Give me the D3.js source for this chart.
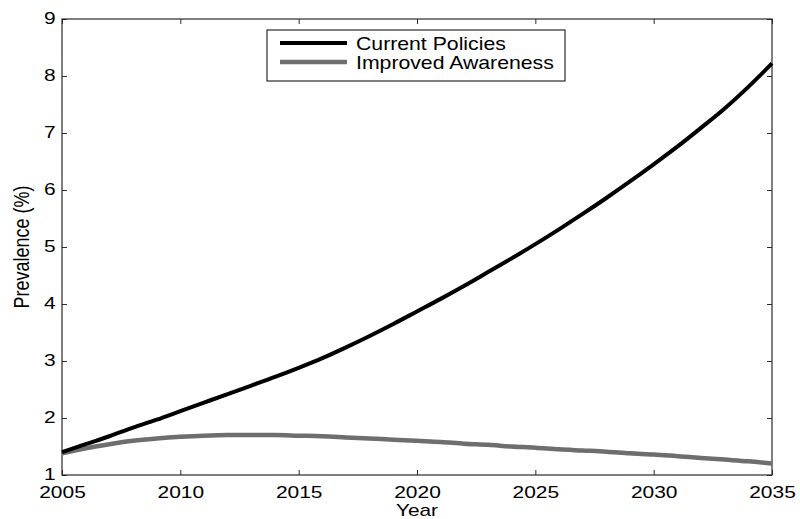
<!DOCTYPE html>
<html>
<head>
<meta charset="utf-8">
<script src="https://cdn.jsdelivr.net/npm/d3@7"></script>
<style>
  html, body { margin: 0; padding: 0; background: #fff; }
  svg { display: block; font-family: "Liberation Sans", Arial, Helvetica, sans-serif; }
</style>
</head>
<body>
<svg id="chart" width="800" height="519"></svg>
<script>
// Prevalence projections, 2005–2035
const years = [2005, 2006, 2007, 2008, 2009, 2010, 2011, 2012, 2013, 2014, 2015,
  2016, 2017, 2018, 2019, 2020, 2021, 2022, 2023, 2024, 2025,
  2026, 2027, 2028, 2029, 2030, 2031, 2032, 2033, 2034, 2035];

const currentPolicies = [1.40, 1.54, 1.68, 1.83, 1.97, 2.12, 2.27, 2.42, 2.57, 2.72, 2.88,
  3.05, 3.24, 3.44, 3.65, 3.87, 4.09, 4.32, 4.56, 4.80, 5.05,
  5.31, 5.58, 5.86, 6.15, 6.45, 6.76, 7.09, 7.43, 7.81, 8.22];

const improvedAwareness = [1.38, 1.47, 1.54, 1.60, 1.64, 1.67, 1.69, 1.70, 1.70, 1.70, 1.69,
  1.68, 1.66, 1.64, 1.62, 1.60, 1.58, 1.55, 1.53, 1.50, 1.48,
  1.45, 1.43, 1.41, 1.38, 1.36, 1.33, 1.30, 1.27, 1.24, 1.20];

const xTicks = [2005, 2010, 2015, 2020, 2025, 2030, 2035];
const yTicks = [1, 2, 3, 4, 5, 6, 7, 8, 9];

const seriesNames = ["Current Policies", "Improved Awareness"];
const seriesColors = ["#000000", "#6e6e6e"];

const svg = d3.select("#chart");
const plotLeft = 62, plotRight = 772, plotTop = 19, plotBottom = 475;
const textScale = 1.18;
const tickScale = 1.27;
const fontSize = 18;
const tickFontSize = 16.5;

const x = d3.scaleLinear().domain([2005, 2035]).range([plotLeft, plotRight]);
const y = d3.scaleLinear().domain([1, 9]).range([plotBottom, plotTop]);

const axisColor = "#2a2a2a";

function styleAxis(g) {
  g.select(".domain").remove();
  g.selectAll(".tick line").attr("stroke", axisColor).attr("stroke-width", 1);
  g.selectAll(".tick text").attr("fill", "#000").attr("font-size", tickFontSize);
}

// bottom axis
svg.append("g")
  .attr("transform", `translate(0,${plotBottom})`)
  .call(d3.axisBottom(x).tickValues(xTicks).tickFormat(d3.format("d")).tickSizeInner(-5).tickSizeOuter(0).tickPadding(11))
  .call(styleAxis)
  .call(g => g.selectAll(".tick text").attr("transform", `scale(${tickScale},1)`));

// top axis (ticks only)
svg.append("g")
  .attr("transform", `translate(0,${plotTop})`)
  .call(d3.axisTop(x).tickValues(xTicks).tickFormat("").tickSizeInner(-5).tickSizeOuter(0))
  .call(styleAxis);

// left axis
svg.append("g")
  .attr("transform", `translate(${plotLeft},0)`)
  .call(d3.axisLeft(y).tickValues(yTicks).tickFormat(d3.format("d")).tickSizeInner(-5).tickSizeOuter(0).tickPadding(5))
  .call(styleAxis)
  .call(g => g.selectAll(".tick text").attr("dy", "0.3em").attr("transform", `scale(${tickScale},1)`));

// right axis (ticks only)
svg.append("g")
  .attr("transform", `translate(${plotRight},0)`)
  .call(d3.axisRight(y).tickValues(yTicks).tickFormat("").tickSizeInner(-5).tickSizeOuter(0))
  .call(styleAxis);

// plot frame
svg.append("rect")
  .attr("x", plotLeft).attr("y", plotTop)
  .attr("width", plotRight - plotLeft).attr("height", plotBottom - plotTop)
  .attr("fill", "none").attr("stroke", axisColor).attr("stroke-width", 1.2);

// series lines
const line = d3.line()
  .x((d, i) => x(years[i]))
  .y(d => y(d))
  .curve(d3.curveMonotoneX);

svg.append("path")
  .datum(improvedAwareness)
  .attr("fill", "none")
  .attr("stroke", seriesColors[1])
  .attr("stroke-width", 4.5)
  .attr("d", line);

svg.append("path")
  .datum(currentPolicies)
  .attr("fill", "none")
  .attr("stroke", seriesColors[0])
  .attr("stroke-width", 4)
  .attr("d", line);

// axis titles
svg.append("text")
  .attr("transform", `translate(${(plotLeft + plotRight) / 2},515.5) scale(1.3,1)`)
  .attr("text-anchor", "middle")
  .attr("font-size", 16)
  .text("Year");

svg.append("text")
  .attr("transform", `translate(29,${(plotTop + plotBottom) / 2}) scale(${textScale},1) rotate(-90)`)
  .attr("text-anchor", "middle")
  .attr("font-size", fontSize)
  .text("Prevalence (%)");

// legend
const legend = svg.append("g");
legend.append("rect")
  .attr("x", 267).attr("y", 30).attr("width", 298).attr("height", 51)
  .attr("fill", "#fff").attr("stroke", axisColor).attr("stroke-width", 1.2);

seriesNames.forEach((name, i) => {
  const ly = 43 + i * 19;
  legend.append("line")
    .attr("x1", 280).attr("x2", 347)
    .attr("y1", ly).attr("y2", ly)
    .attr("stroke", seriesColors[i])
    .attr("stroke-width", i === 0 ? 4 : 4.5);
  legend.append("text")
    .attr("transform", `translate(356,${ly + 6.5}) scale(${textScale},1)`)
    .attr("font-size", fontSize)
    .text(name);
});
</script>
</body>
</html>
